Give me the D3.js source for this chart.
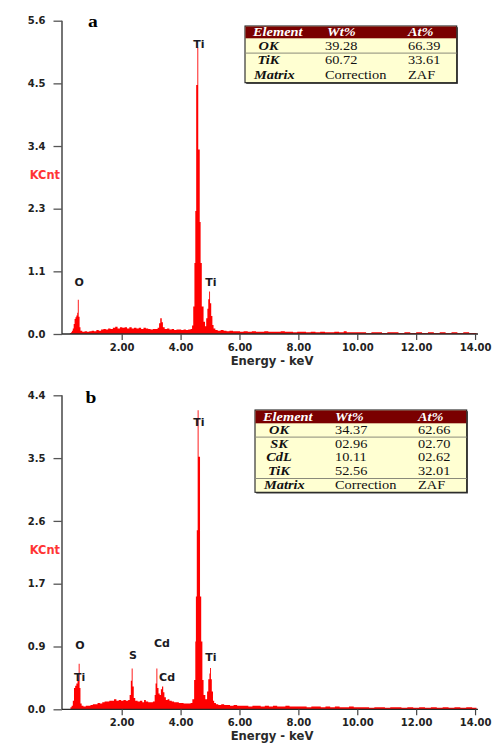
<!DOCTYPE html>
<html><head><meta charset="utf-8">
<script src="https://cdn.jsdelivr.net/npm/d3@7"></script>
<style>html,body{margin:0;padding:0;background:#fff;} svg{display:block;}</style>
</head><body>
<svg id="c" width="495" height="745"></svg>
<script>
// ---------- DATA ----------
const xTickValues = [2, 4, 6, 8, 10, 12, 14];
const xTickLabels = ["2.00", "4.00", "6.00", "8.00", "10.00", "12.00", "14.00"];
const xMax = 14.1;

const yMaxA = 5.6;
const yTickLabelsA = ["0.0", "1.1", "2.3", "3.4", "4.5", "5.6"];
const yMaxB = 4.4;
const yTickLabelsB = ["0.0", "0.9", "1.7", "2.6", "3.5", "4.4"];

// [energy keV (bin start), KCnt]
const spectrumA = [
[0.20,0.00],[0.24,0.02],[0.28,0.03],[0.31,0.06],[0.34,0.10],[0.37,0.18],[0.40,0.27],[0.43,0.30],[0.46,0.33],[0.49,0.38],
[0.51,0.61],[0.54,0.31],[0.57,0.12],[0.60,0.06],[0.66,0.04],[0.74,0.05],[0.82,0.04],[0.90,0.05],[0.98,0.06],[1.06,0.05],
[1.14,0.07],[1.22,0.06],[1.30,0.08],[1.38,0.09],[1.46,0.08],[1.54,0.10],[1.62,0.09],[1.70,0.11],[1.78,0.13],[1.86,0.10],
[1.94,0.12],[2.02,0.11],[2.10,0.12],[2.18,0.10],[2.26,0.12],[2.34,0.10],[2.42,0.11],[2.50,0.10],[2.58,0.11],[2.66,0.09],
[2.74,0.11],[2.82,0.10],[2.90,0.09],[2.98,0.08],[3.06,0.09],[3.14,0.09],[3.22,0.11],[3.27,0.19],[3.31,0.28],[3.36,0.21],
[3.40,0.12],[3.46,0.09],[3.54,0.10],[3.62,0.08],[3.70,0.09],[3.78,0.07],[3.86,0.08],[3.94,0.08],[4.02,0.07],[4.10,0.08],
[4.18,0.07],[4.26,0.08],[4.34,0.09],[4.39,0.15],[4.43,0.49],[4.47,1.27],[4.50,2.20],[4.53,4.45],[4.57,5.12],[4.60,3.30],
[4.65,2.00],[4.68,1.27],[4.72,0.49],[4.78,0.22],[4.83,0.14],[4.87,0.28],[4.91,0.45],[4.94,0.62],[4.97,0.76],[5.00,0.55],
[5.04,0.32],[5.08,0.16],[5.12,0.10],[5.18,0.07],[5.26,0.06],[5.36,0.07],[5.46,0.06],[5.56,0.05],[5.66,0.06],[5.78,0.05],
[5.90,0.05],[6.02,0.04],[6.14,0.05],[6.28,0.04],[6.42,0.05],[6.56,0.04],[6.70,0.04],[6.84,0.05],[6.98,0.04],[7.12,0.04],
[7.26,0.04],[7.40,0.05],[7.54,0.04],[7.68,0.04],[7.82,0.03],[7.96,0.04],[8.10,0.04],[8.26,0.03],[8.42,0.04],[8.58,0.03],
[8.74,0.04],[8.90,0.03],[9.06,0.03],[9.22,0.04],[9.38,0.03],[9.54,0.05],[9.64,0.03],[9.80,0.03],[9.96,0.03],[10.12,0.03],
[10.30,0.02],[10.48,0.03],[10.66,0.03],[10.84,0.02],[11.02,0.03],[11.20,0.03],[11.40,0.02],[11.60,0.03],[11.80,0.02],[12.00,0.03],
[12.20,0.02],[12.40,0.03],[12.60,0.02],[12.80,0.03],[13.00,0.02],[13.20,0.03],[13.40,0.02],[13.60,0.03],[13.80,0.02],[14.05,0.00]
];

const spectrumB = [
[0.22,0.00],[0.26,0.03],[0.30,0.05],[0.34,0.12],[0.38,0.30],[0.42,0.33],[0.46,0.36],[0.50,0.40],[0.54,0.64],[0.57,0.30],
[0.60,0.08],[0.64,0.05],[0.70,0.04],[0.78,0.05],[0.86,0.05],[0.94,0.06],[1.02,0.07],[1.10,0.07],[1.18,0.09],[1.26,0.08],
[1.34,0.10],[1.42,0.11],[1.50,0.11],[1.58,0.12],[1.66,0.12],[1.74,0.14],[1.82,0.12],[1.90,0.13],[1.98,0.12],[2.06,0.13],
[2.14,0.12],[2.22,0.13],[2.27,0.20],[2.31,0.40],[2.34,0.57],[2.37,0.32],[2.41,0.16],[2.46,0.12],[2.54,0.11],[2.62,0.12],
[2.70,0.10],[2.76,0.13],[2.82,0.11],[2.90,0.10],[2.98,0.10],[3.06,0.11],[3.12,0.20],[3.15,0.36],[3.18,0.57],[3.21,0.30],
[3.25,0.22],[3.29,0.20],[3.33,0.28],[3.37,0.32],[3.41,0.24],[3.45,0.17],[3.50,0.13],[3.56,0.14],[3.62,0.12],[3.70,0.11],
[3.78,0.10],[3.86,0.10],[3.94,0.09],[4.02,0.09],[4.10,0.08],[4.18,0.08],[4.26,0.08],[4.34,0.09],[4.40,0.14],[4.46,0.41],
[4.50,0.95],[4.52,1.58],[4.55,2.51],[4.58,4.19],[4.61,3.54],[4.66,1.58],[4.70,0.95],[4.74,0.41],[4.78,0.20],[4.84,0.14],
[4.90,0.25],[4.94,0.42],[4.98,0.50],[5.00,0.58],[5.03,0.42],[5.06,0.25],[5.10,0.12],[5.14,0.09],[5.20,0.07],[5.28,0.06],
[5.38,0.07],[5.48,0.06],[5.58,0.06],[5.68,0.05],[5.80,0.06],[5.92,0.05],[6.04,0.05],[6.16,0.05],[6.30,0.04],[6.44,0.05],
[6.58,0.05],[6.72,0.04],[6.86,0.05],[7.00,0.04],[7.14,0.05],[7.28,0.04],[7.42,0.04],[7.56,0.05],[7.70,0.04],[7.84,0.04],
[7.98,0.04],[8.12,0.04],[8.28,0.03],[8.44,0.04],[8.60,0.04],[8.76,0.03],[8.92,0.04],[9.08,0.03],[9.24,0.04],[9.40,0.03],
[9.56,0.03],[9.72,0.04],[9.88,0.03],[10.04,0.03],[10.22,0.03],[10.40,0.02],[10.58,0.03],[10.76,0.03],[10.94,0.02],[11.12,0.03],
[11.30,0.03],[11.50,0.02],[11.70,0.03],[11.90,0.02],[12.10,0.03],[12.30,0.02],[12.50,0.03],[12.70,0.02],[12.90,0.03],[13.10,0.02],
[13.30,0.03],[13.50,0.02],[13.70,0.03],[13.90,0.02],[14.05,0.00]
];

// peak labels: [text, energy, KCnt at baseline]
const peakLabelsA = [["O",0.56,0.86],["Ti",4.62,5.11],["Ti",5.03,0.86]];
const peakLabelsB = [["O",0.58,0.85],["Ti",0.57,0.40],["S",2.38,0.71],["Cd",3.37,0.87],["Cd",3.54,0.39],["Ti",4.62,3.97],["Ti",5.03,0.67]];

const tableHeader = ["Element", "Wt%", "At%"];
const tableA = [["OK","39.28","66.39"],["TiK","60.72","33.61"]];
const tableB = [["OK","34.37","62.66"],["SK","02.96","02.70"],["CdL","10.11","02.62"],["TiK","52.56","32.01"]];
const matrixRow = ["Matrix", "Correction", "ZAF"];

const panelLetters = ["a", "b"];
const yAxisTitle = "KCnt";
const xAxisTitle = "Energy - keV";

// ---------- DRAW ----------
const svg = d3.select("#c");
const SANS = "DejaVu Sans";
const SERIF = "Liberation Serif";

const panels = [
  {letter: panelLetters[0], spectrum: spectrumA, yMax: yMaxA, yLabels: yTickLabelsA, peaks: peakLabelsA, rows: tableA,
   yBottom: 334, yTop: 20.7, letterX: 93, letterY: 27,
   tbl: {left: 245, top: 26, width: 211.7, headH: 12.3, rowH: 14.8, base: 11.3, headBase: 9.8, seps: [1], nameC: 23.5, matX: 9, c1: 80, c2: 163, h0: 8, h1: 82, h2: 163}},
  {letter: panelLetters[1], spectrum: spectrumB, yMax: yMaxB, yLabels: yTickLabelsB, peaks: peakLabelsB, rows: tableB,
   yBottom: 709.3, yTop: 395.3, letterX: 91, letterY: 403,
   tbl: {left: 255, top: 410, width: 211.7, headH: 13.3, rowH: 13.8, base: 10.5, headBase: 10.8, seps: [1, 4], nameC: 24, matX: 9, c1: 80, c2: 163, h0: 8, h1: 80, h2: 163}}
];

const xLeft = 62.8, xRight = 478;

panels.forEach(p => {
  const g = svg.append("g");
  const x = d3.scaleLinear().domain([0, xMax]).range([xLeft, xRight]);
  const y = d3.scaleLinear().domain([0, p.yMax]).range([p.yBottom, p.yTop]);

  // spectrum
  const area = d3.area().curve(d3.curveStepAfter)
    .x(d => x(d[0])).y0(y(0)).y1(d => y(d[1]));
  g.append("path").datum(p.spectrum).attr("d", area).attr("fill", "#ff0000").attr("stroke", "none");

  // y axis
  const yTicks = p.yLabels.map((l, i) => i * p.yMax / (p.yLabels.length - 1));
  const yAxis = d3.axisLeft(y).tickValues(yTicks).tickSize(8.5).tickPadding(8)
    .tickFormat((d, i) => p.yLabels[i]);
  const ya = g.append("g").attr("transform", `translate(${xLeft - 0.8},0)`).call(yAxis);
  ya.select(".domain").attr("stroke", "#2a2a2a").attr("stroke-width", 1.3).attr("d", `M0,${y(p.yMax)}V${y(0)}`);
  ya.selectAll(".tick line").attr("stroke", "#555").attr("stroke-width", 1.3);
  ya.selectAll(".tick text").attr("font-family", SANS).attr("font-weight", "bold").attr("font-size", "10px").attr("fill", "#222");

  // x axis
  const xAxis = d3.axisBottom(x).tickValues(xTickValues).tickSize(6).tickPadding(3.5)
    .tickFormat((d, i) => xTickLabels[i]);
  const xa = g.append("g").attr("transform", `translate(0,${p.yBottom})`).call(xAxis);
  xa.select(".domain").attr("stroke", "#2a2a2a").attr("stroke-width", 1.3).attr("d", `M${xLeft - 0.8},0H${xRight}`);
  xa.selectAll(".tick line").attr("stroke", "#444").attr("stroke-width", 1.2);
  xa.selectAll(".tick text").attr("font-family", SANS).attr("font-weight", "bold").attr("font-size", "10px").attr("fill", "#222");

  // axis titles
  g.append("text").attr("x", 272).attr("y", p.yBottom + 31).attr("text-anchor", "middle")
    .attr("font-family", SANS).attr("font-weight", "bold").attr("font-size", "11.6px").attr("fill", "#2a2a2a")
    .text(xAxisTitle);
  g.append("text").attr("x", 60).attr("y", (p.yBottom + p.yTop) / 2 + 1.2).attr("text-anchor", "end")
    .attr("font-family", SANS).attr("font-weight", "bold").attr("font-size", "11.4px").attr("fill", "#ff3535")
    .text(yAxisTitle);

  // panel letter
  g.append("text").attr("transform", `translate(${p.letterX},${p.letterY}) scale(1.15,1)`).attr("text-anchor", "middle")
    .attr("font-family", SERIF).attr("font-weight", "bold").attr("font-size", "17px").attr("fill", "#000")
    .text(p.letter);

  // peak labels
  g.selectAll("text.peak").data(p.peaks).enter().append("text").attr("class", "peak")
    .attr("x", d => x(d[1])).attr("y", d => y(d[2])).attr("text-anchor", "middle")
    .attr("font-family", SANS).attr("font-weight", "bold").attr("font-size", "11px").attr("fill", "#1a1a22")
    .text(d => d[0]);

  // table
  const t = p.tbl;
  const allRows = p.rows.concat([matrixRow]);
  const height = t.headH + allRows.length * t.rowH;
  const tg = g.append("g").attr("transform", `translate(${t.left},${t.top})`);
  tg.append("rect").attr("x", 1.2).attr("y", 1.2).attr("width", t.width).attr("height", height).attr("fill", "#3a3a3a");
  tg.append("rect").attr("x", 0).attr("y", 0).attr("width", t.width).attr("height", height)
    .attr("fill", "#ffffd2").attr("stroke", "#222").attr("stroke-width", 1.1);
  tg.append("rect").attr("x", 0.5).attr("y", 0.5).attr("width", t.width - 1).attr("height", t.headH - 0.5).attr("fill", "#7a0000");
  t.seps.forEach(s => {
    tg.append("line").attr("x1", 0).attr("x2", t.width).attr("y1", t.headH + s * t.rowH).attr("y2", t.headH + s * t.rowH)
      .attr("stroke", "#8a8a7a").attr("stroke-width", 1);
  });
  const stxt = (xx, yy, txt, opts) => {
    tg.append("text").attr("transform", `translate(${xx},${yy}) scale(1.15,1)`)
      .attr("text-anchor", opts.anchor || "start")
      .attr("font-family", SERIF).attr("font-size", "12.5px")
      .attr("font-weight", opts.bold ? "bold" : "normal").attr("font-style", opts.italic ? "italic" : "normal")
      .attr("fill", opts.fill || "#111").text(txt);
  };
  const hx = [t.h0, t.h1, t.h2];
  tableHeader.forEach((h, i) => stxt(hx[i], t.headBase, h, {bold: true, italic: true, fill: "#fff"}));
  allRows.forEach((r, i) => {
    const by = t.headH + i * t.rowH + t.base;
    const isMatrix = i === allRows.length - 1;
    if (isMatrix) stxt(t.matX, by, r[0], {bold: true, italic: true});
    else stxt(t.nameC, by, r[0], {bold: true, italic: true, anchor: "middle"});
    stxt(t.c1, by, r[1], {});
    stxt(t.c2, by, r[2], {});
  });
});
</script>
</body></html>
